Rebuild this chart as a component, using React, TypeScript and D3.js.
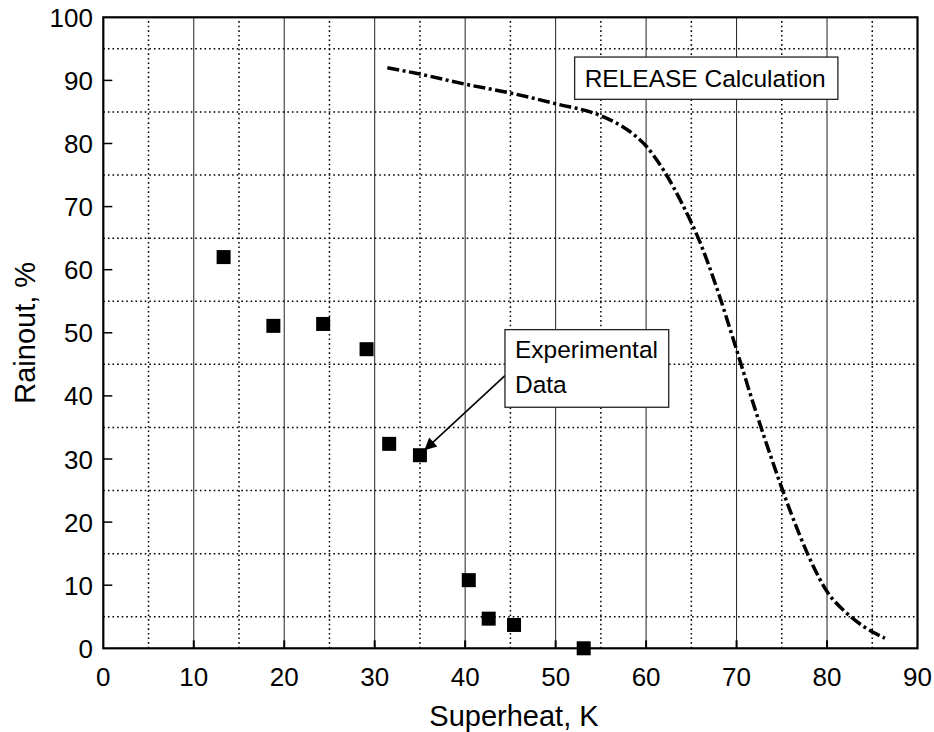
import React, { useEffect, useRef } from 'react';
import * as d3 from 'd3';

// experimental points (superheat K, rainout %)
const expX = [13.3, 18.8, 24.3, 29.1, 31.6, 35.0, 40.4, 42.6, 45.4, 53.1];
const expY = [62.0, 51.1, 51.4, 47.4, 32.4, 30.6, 10.8, 4.7, 3.7, 0];

// RELEASE calculation curve
const calcX = [31.4, 35, 40, 45, 50, 55, 58, 60, 62, 64, 66, 68, 70, 72, 74, 76, 78, 80, 82, 84, 86.4];
const calcY = [92.0, 91.0, 89.4, 88.0, 86.3, 84.4, 82.1, 79.6, 75.6, 70.4, 64.2, 56.3, 47.3, 38.1, 29.5, 21.5, 14.5, 9.0, 5.8, 3.5, 1.6];

const xTicks = [0, 10, 20, 30, 40, 50, 60, 70, 80, 90];
const yTicks = [0, 10, 20, 30, 40, 50, 60, 70, 80, 90, 100];

const App: React.FC = () => {
  const ref = useRef<HTMLDivElement>(null);

  useEffect(() => {
    if (!ref.current) return;
    const width = 934;
    const height = 732;
    const font = 'Arial, "Liberation Sans", sans-serif';

    d3.select(ref.current).select('svg').remove();
    const svg = d3
      .select(ref.current)
      .append('svg')
      .attr('width', width)
      .attr('height', height)
      .style('display', 'block')
      .style('background', '#fff');

    const x = d3.scaleLinear().domain([0, 90]).range([103.3, 917.5]);
    const y = d3.scaleLinear().domain([0, 100]).range([648.3, 17.3]);

    // grid
    const minorX = d3.range(5, 90, 10);
    const minorY = d3.range(5, 100, 10);
    const majorX = xTicks.slice(1, -1);

    svg.append('g')
      .selectAll('line')
      .data(majorX)
      .enter()
      .append('line')
      .attr('x1', (d) => x(d))
      .attr('x2', (d) => x(d))
      .attr('y1', y(0))
      .attr('y2', y(100))
      .attr('stroke', '#222')
      .attr('stroke-width', 1);

    svg.append('g')
      .selectAll('line')
      .data(minorX)
      .enter()
      .append('line')
      .attr('x1', (d) => x(d))
      .attr('x2', (d) => x(d))
      .attr('y1', y(0))
      .attr('y2', y(100))
      .attr('stroke', '#000')
      .attr('stroke-width', 1.5)
      .attr('stroke-dasharray', '1.6,3');

    svg.append('g')
      .selectAll('line')
      .data(minorY)
      .enter()
      .append('line')
      .attr('x1', x(0))
      .attr('x2', x(90))
      .attr('y1', (d) => y(d))
      .attr('y2', (d) => y(d))
      .attr('stroke', '#000')
      .attr('stroke-width', 1.5)
      .attr('stroke-dasharray', '1.6,3');

    // inward ticks
    svg.append('g')
      .selectAll('line')
      .data(yTicks.slice(1, -1))
      .enter()
      .append('line')
      .attr('x1', x(0))
      .attr('x2', x(0) + 9)
      .attr('y1', (d) => y(d))
      .attr('y2', (d) => y(d))
      .attr('stroke', '#000')
      .attr('stroke-width', 1.5);

    svg.append('g')
      .selectAll('line')
      .data(majorX)
      .enter()
      .append('line')
      .attr('x1', (d) => x(d))
      .attr('x2', (d) => x(d))
      .attr('y1', y(0))
      .attr('y2', y(0) - 8)
      .attr('stroke', '#000')
      .attr('stroke-width', 2);

    // frame
    svg.append('rect')
      .attr('x', x(0))
      .attr('y', y(100))
      .attr('width', x(90) - x(0))
      .attr('height', y(0) - y(100))
      .attr('fill', 'none')
      .attr('stroke', '#000')
      .attr('stroke-width', 2.2);

    // tick labels
    svg.append('g')
      .selectAll('text')
      .data(xTicks)
      .enter()
      .append('text')
      .attr('x', (d) => x(d))
      .attr('y', 686)
      .attr('text-anchor', 'middle')
      .style('font-family', font)
      .style('font-size', '26px')
      .text((d) => d);

    svg.append('g')
      .selectAll('text')
      .data(yTicks)
      .enter()
      .append('text')
      .attr('x', 93)
      .attr('y', (d) => y(d) + 9.5)
      .attr('text-anchor', 'end')
      .style('font-family', font)
      .style('font-size', '26px')
      .text((d) => d);

    // axis titles
    svg.append('text')
      .attr('x', 514)
      .attr('y', 726)
      .attr('text-anchor', 'middle')
      .style('font-family', font)
      .style('font-size', '29px')
      .text('Superheat, K');

    svg.append('text')
      .attr('transform', `translate(35,${(y(0) + y(100)) / 2}) rotate(-90)`)
      .attr('text-anchor', 'middle')
      .style('font-family', font)
      .style('font-size', '29px')
      .text('Rainout, %');

    // calculation curve
    const line = d3
      .line<number>()
      .x((d, i) => x(calcX[i]))
      .y((d) => y(d))
      .curve(d3.curveMonotoneX);

    svg.append('path')
      .attr('d', line(calcY))
      .attr('fill', 'none')
      .attr('stroke', '#000')
      .attr('stroke-width', 3.5)
      .attr('stroke-dasharray', '12,3.5,3,3.5');

    // experimental squares
    const sq = 14;
    svg.append('g')
      .selectAll('rect')
      .data(expY)
      .enter()
      .append('rect')
      .attr('x', (d, i) => x(expX[i]) - sq / 2)
      .attr('y', (d) => y(d) - sq / 2)
      .attr('width', sq)
      .attr('height', sq)
      .attr('fill', '#000');

    // annotation boxes
    const box = (x0: number, y0: number, x1: number, y1: number) =>
      svg.append('rect')
        .attr('x', x(x0))
        .attr('y', y(y0))
        .attr('width', x(x1) - x(x0))
        .attr('height', y(y1) - y(y0))
        .attr('fill', '#fff')
        .attr('stroke', '#222')
        .attr('stroke-width', 1.3);

    box(52.1, 93.7, 81.2, 87.0);
    svg.append('text')
      .attr('x', x(52.1) + 10)
      .attr('y', y(90.4) + 9)
      .style('font-family', font)
      .style('font-size', '24.5px')
      .text('RELEASE Calculation');

    // arrow to experimental data
    svg.append('defs')
      .append('marker')
      .attr('id', 'arrow')
      .attr('viewBox', '0 0 10 10')
      .attr('refX', 10)
      .attr('refY', 5)
      .attr('markerWidth', 16)
      .attr('markerHeight', 12)
      .attr('markerUnits', 'userSpaceOnUse')
      .attr('orient', 'auto')
      .append('path')
      .attr('d', 'M0,0 L10,5 L0,10 Z')
      .attr('fill', '#000');

    svg.append('line')
      .attr('x1', x(44.4))
      .attr('y1', y(43.2))
      .attr('x2', x(35.5))
      .attr('y2', y(31.4))
      .attr('stroke', '#000')
      .attr('stroke-width', 1.6)
      .attr('marker-end', 'url(#arrow)');

    box(44.4, 50.5, 62.5, 38.2);
    const t = svg.append('text')
      .style('font-family', font)
      .style('font-size', '24.5px');
    t.append('tspan').attr('x', x(44.4) + 10).attr('y', 358).text('Experimental');
    t.append('tspan').attr('x', x(44.4) + 10).attr('y', 393).text('Data');
  }, []);

  return <div ref={ref} style={{ position: 'absolute', left: 0, top: 0 }}></div>;
};

export default App;
